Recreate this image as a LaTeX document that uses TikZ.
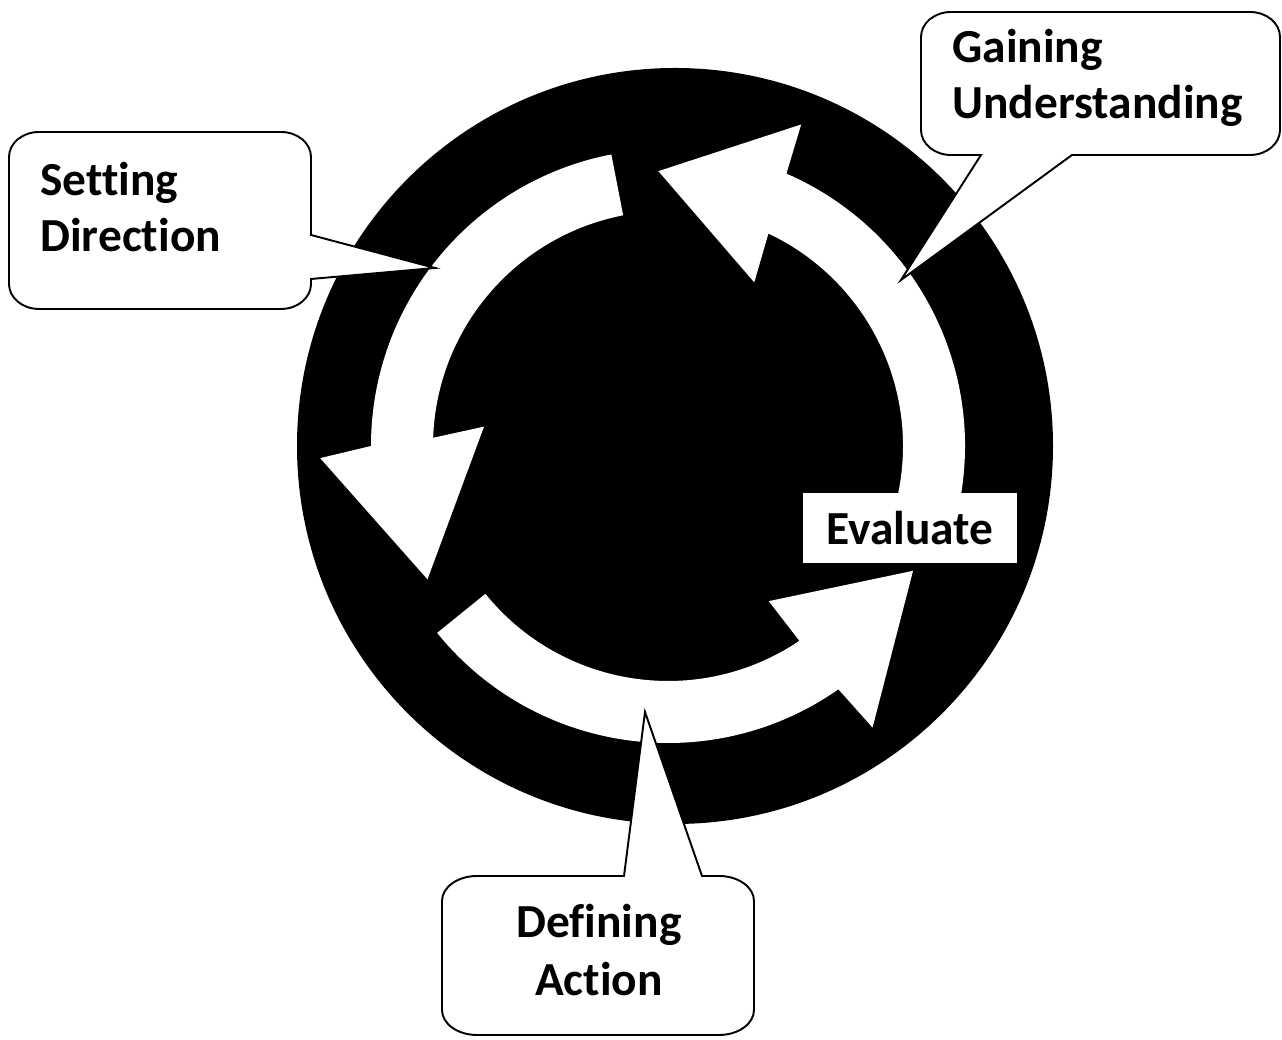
\documentclass[tikz,border=0pt]{standalone}
\usepackage{fontspec}
\setmainfont{Carlito}[Ligatures=NoCommon]
\usepackage{tikz}
\usetikzlibrary{positioning}

\begin{document}
\begin{tikzpicture}[x=0.02cm, y=0.02cm]
    % Define styles
    \tikzstyle{ringarrow} = [fill=white]
    \tikzstyle{balloon} = [draw, fill=white, line width=1.1pt, line join=miter]
    \tikzstyle{caption} = [font=\bfseries\fontsize{27pt}{31.5pt}\selectfont, inner sep=0pt]
    \tikzstyle{evalbox} = [caption, fill=white, minimum width=4.28cm, minimum height=1.4cm]

    \useasboundingbox (0,0) rectangle (1282,1040);

    % Black disc and the white ring of arrows
    \fill[black] (675,594) circle[radius=378];
    \coordinate (ring) at (668,594);
    \begin{scope}[shift={(ring)}]
        \foreach \tail/\so/\si/\bo/\bi/\tip in {101/180/178/182/174/209, 219/305/304/306/303/333, -12/66.5/64.7/67.5/62.2/92}
            \fill[ringarrow] (\tail:297) arc[start angle=\tail, end angle=\so, radius=297]
                -- (\bo:348) -- (\tip:275) -- (\bi:185) -- (\si:235)
                arc[start angle=\si, end angle=\tail, radius=235] -- cycle;
    \end{scope}

    % Place nodes
    \node [evalbox] (evaluate) at (910,512) {Evaluate};

    % Speech balloons
    \path [balloon] (39,908) -- (281,908) arc[start angle=90, end angle=0, x radius=30, y radius=25]
        -- (311,805) -- (435,772) -- (311,761)
        -- (311,756) arc[start angle=0, end angle=-90, x radius=30, y radius=25]
        -- (39,731) arc[start angle=270, end angle=180, x radius=30, y radius=25]
        -- (9,883) arc[start angle=180, end angle=90, x radius=30, y radius=25] -- cycle;
    \path [balloon] (951,1028) -- (1250,1028) arc[start angle=90, end angle=0, x radius=30, y radius=25]
        -- (1280,910) arc[start angle=0, end angle=-90, x radius=30, y radius=25]
        -- (1072,885) -- (901,760) -- (981,885)
        -- (951,885) arc[start angle=270, end angle=180, x radius=30, y radius=25]
        -- (921,1003) arc[start angle=180, end angle=90, x radius=30, y radius=25] -- cycle;
    \path [balloon] (477,164) -- (624,164) -- (645,328) -- (702,164)
        -- (719,164) arc[start angle=90, end angle=0, x radius=35, y radius=25]
        -- (754,30) arc[start angle=0, end angle=-90, x radius=35, y radius=25]
        -- (477,5) arc[start angle=270, end angle=180, x radius=35, y radius=25]
        -- (442,139) arc[start angle=180, end angle=90, x radius=35, y radius=25] -- cycle;

    \node [caption, anchor=base west, text width=6cm, align=left] (setting) at (40,844) {Setting\\Direction};
    \node [caption, anchor=base west, text width=7cm, align=left] (gaining) at (952,977) {Gaining\\Understanding};
    \node [caption, anchor=base, text width=6cm, align=center, font=\bfseries\fontsize{27pt}{33pt}\selectfont] (defining) at (599,102) {Defining\\Action};
\end{tikzpicture}
\end{document}
